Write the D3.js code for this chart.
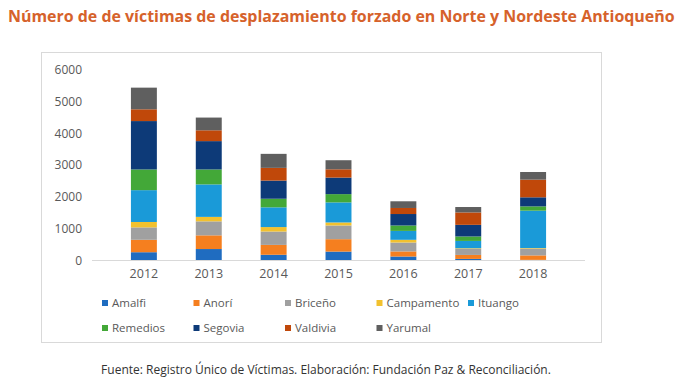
<!DOCTYPE html>
<html>
<head>
<meta charset="utf-8">
<script src="https://cdn.jsdelivr.net/npm/d3@7"></script>
<style>
  body { margin: 0; background: #fff; }
  svg text { font-family: "Open Sans", sans-serif; }
</style>
</head>
<body>
<svg id="chart" width="680" height="387"></svg>
<script>
// data
var years = ["2012", "2013", "2014", "2015", "2016", "2017", "2018"];
var municipios = ["Amalfi", "Anorí", "Briceño", "Campamento", "Ituango", "Remedios", "Segovia", "Valdivia", "Yarumal"];
var amalfi     = [260, 360, 180, 280, 125, 50, 20];
var anori      = [390, 430, 310, 390, 160, 125, 140];
var briceno    = [390, 440, 420, 430, 280, 190, 210];
var campamento = [170, 140, 140, 95, 85, 20, 20];
var ituango    = [1000, 1020, 620, 630, 280, 230, 1175];
var remedios   = [650, 470, 270, 260, 170, 140, 135];
var segovia    = [1520, 890, 570, 520, 360, 365, 285];
var valdivia   = [370, 340, 400, 260, 190, 390, 555];
var yarumal    = [680, 400, 440, 285, 210, 170, 240];
var yTicks = [0, 1000, 2000, 3000, 4000, 5000, 6000];

var colores = ["#1f6cc0", "#f57f1f", "#a0a0a0", "#f2c12e", "#1a9ad8", "#43a838", "#0d3a78", "#c0480a", "#5f5f5f"];

var series = [amalfi, anori, briceno, campamento, ituango, remedios, segovia, valdivia, yarumal];
var rows = years.map(function (y, i) {
    var r = { year: y };
    municipios.forEach(function (m, j) { r[m] = series[j][i]; });
    return r;
});

var svg = d3.select("#chart");

// title
var title = svg.append("text")
    .attr("x", 8)
    .attr("y", 22)
    .style("font-size", "17px")
    .style("font-weight", "bold")
    .style("fill", "#d6622b")
    .text("Número de de víctimas de desplazamiento forzado en Norte y Nordeste Antioqueño");
var tw = title.node().getComputedTextLength();
title.style("font-size", (17 * 667 / tw) + "px");

// chart frame
svg.append("rect")
    .attr("x", 41.5).attr("y", 52.5)
    .attr("width", 560).attr("height", 290)
    .attr("fill", "none")
    .attr("stroke", "#d9d9d9");

var x = d3.scaleBand().domain(years).range([92, 585]).padding(0.6);
var y = d3.scaleLinear().domain([0, 6000]).range([260.5, 69.5]);

var stack = d3.stack().keys(municipios)(rows);

svg.append("g")
    .selectAll("g")
    .data(stack)
    .enter().append("g")
    .attr("fill", function (d, i) { return colores[i]; })
    .selectAll("rect")
    .data(function (d) { return d; })
    .enter().append("rect")
    .attr("x", function (d) { return x(d.data.year); })
    .attr("y", function (d) { return y(d[1]); })
    .attr("height", function (d) { return y(d[0]) - y(d[1]); })
    .attr("width", x.bandwidth());

// y axis labels
var yAxis = svg.append("g")
    .attr("transform", "translate(92,0)")
    .call(d3.axisLeft(y).tickValues(yTicks).tickFormat(d3.format("d")).tickSize(0).tickPadding(10));
yAxis.select(".domain").remove();
yAxis.selectAll("text")
    .style("font-size", "12px")
    .style("fill", "#595959")
    .style("font-family", "'Open Sans', sans-serif");

// x axis
var xAxis = svg.append("g")
    .attr("transform", "translate(0,260.5)")
    .call(d3.axisBottom(x).tickSize(0).tickPadding(9));
xAxis.select(".domain")
    .attr("stroke", "#d9d9d9")
    .attr("d", "M92,0H585");
xAxis.selectAll("text")
    .style("font-size", "12.5px")
    .style("fill", "#595959")
    .style("font-family", "'Open Sans', sans-serif");

// legend
var legend = svg.append("g")
    .selectAll("g")
    .data(municipios)
    .enter().append("g")
    .attr("transform", function (d, i) {
        var col = i < 5 ? i : i - 5;
        var row = i < 5 ? 0 : 1;
        return "translate(" + (102 + col * 91.5) + "," + (303 + row * 25) + ")";
    });
legend.append("rect")
    .attr("x", 0).attr("y", -3)
    .attr("width", 6).attr("height", 6)
    .attr("fill", function (d, i) { return colores[i]; });
legend.append("text")
    .attr("x", 10)
    .attr("y", 4)
    .style("font-size", "11.5px")
    .style("fill", "#595959")
    .text(function (d) { return d; });

// source note
svg.append("text")
    .attr("x", 326)
    .attr("y", 374)
    .attr("text-anchor", "middle")
    .style("font-size", "12px")
    .style("fill", "#333")
    .text("Fuente: Registro Único de Víctimas. Elaboración: Fundación Paz & Reconciliación.");
</script>
</body>
</html>
